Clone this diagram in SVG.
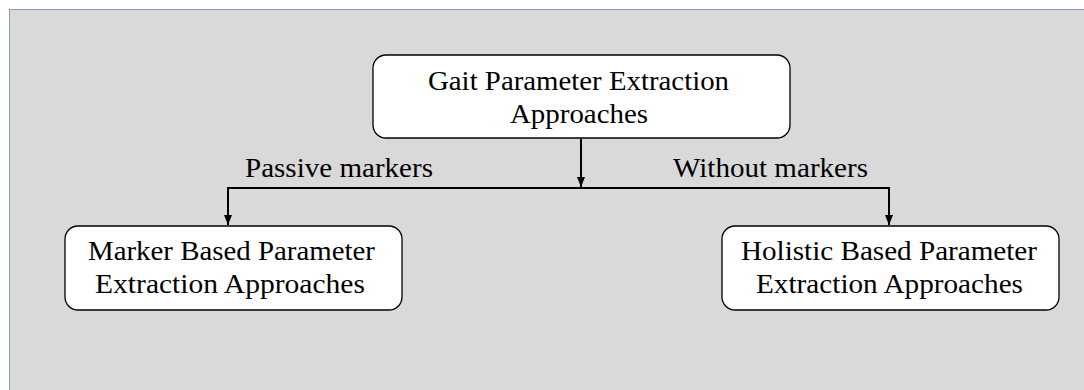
<svg xmlns="http://www.w3.org/2000/svg" width="1084" height="390" viewBox="0 0 1084 390">
<style>
.node{fill:#ffffff;stroke:#000000;stroke-width:1.3}
.t{font-family:"Liberation Serif","Times New Roman",serif;font-size:27px;fill:#000000}
.c{fill:none;stroke:#000000;stroke-width:2}
</style>
<defs>
<marker id="ah" viewBox="0 0 10 8" refX="10" refY="4" markerWidth="10" markerHeight="8" markerUnits="userSpaceOnUse" orient="auto" preserveAspectRatio="none">
<path d="M0,0 L10,4 L0,8 Z" fill="#000000"/>
</marker>
</defs>
<rect x="9.5" y="9.5" width="1100" height="400" fill="#d9d9d9" stroke="#7f9db9" stroke-width="1"/>
<g id="connectors">
<line class="c" x1="581" y1="139" x2="581" y2="187" marker-end="url(#ah)"/>
<line class="c" x1="227" y1="188" x2="890" y2="188"/>
<line class="c" x1="228" y1="188" x2="228" y2="225" marker-end="url(#ah)"/>
<line class="c" x1="889" y1="188" x2="889" y2="225" marker-end="url(#ah)"/>
<text class="t" x="245" y="177" textLength="188" lengthAdjust="spacingAndGlyphs">Passive markers</text>
<text class="t" x="673" y="177" textLength="195" lengthAdjust="spacingAndGlyphs">Without markers</text>
</g>
<g id="root">
<rect class="node" x="373" y="55" width="417" height="83" rx="13"/>
<text class="t" x="428" y="90" textLength="301" lengthAdjust="spacingAndGlyphs">Gait Parameter Extraction</text>
<text class="t" x="510" y="123" textLength="138" lengthAdjust="spacingAndGlyphs">Approaches</text>
</g>
<g id="marker-based">
<rect class="node" x="65" y="226" width="337" height="84" rx="13"/>
<text class="t" x="88" y="260" textLength="287" lengthAdjust="spacingAndGlyphs">Marker Based Parameter</text>
<text class="t" x="95" y="293" textLength="270" lengthAdjust="spacingAndGlyphs">Extraction Approaches</text>
</g>
<g id="holistic-based">
<rect class="node" x="722" y="226" width="337" height="84" rx="13"/>
<text class="t" x="741" y="260" textLength="296" lengthAdjust="spacingAndGlyphs">Holistic Based Parameter</text>
<text class="t" x="756" y="293" textLength="267" lengthAdjust="spacingAndGlyphs">Extraction Approaches</text>
</g>
</svg>
